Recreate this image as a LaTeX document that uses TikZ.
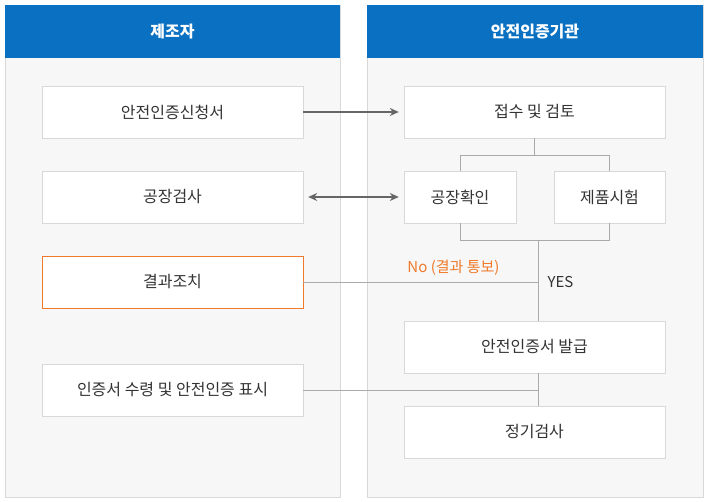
\documentclass[tikz,border=0pt]{standalone}
\usepackage{fontspec}
\setmainfont{Noto Sans CJK KR}
\usetikzlibrary{arrows.meta}
\definecolor{hdr}{HTML}{0A70C2}
\definecolor{pbg}{HTML}{F7F7F7}
\definecolor{pline}{HTML}{D8D8D8}
\definecolor{conn}{HTML}{AAAAAA}
\definecolor{arr}{HTML}{666666}
\definecolor{org}{HTML}{F07A2A}
\begin{document}
\begin{tikzpicture}[x=1pt,y=-1pt,
  box/.style={draw=pline,fill=white,minimum height=52pt,inner sep=0pt,font=\fontsize{16}{18}\selectfont,text=black!80},
  hd/.style={fill=hdr,minimum height=53pt,inner sep=0pt,text=white,font=\fontsize{16}{18}\selectfont\bfseries},
  ln/.style={draw=conn,line width=0.8pt},
  ar/.style={draw=arr,line width=1.4pt,-{Stealth[length=9pt,width=8pt]}}]
\useasboundingbox (0,0) rectangle (710,502);
\fill[white] (0,0) rectangle (710,502);
\draw[pline,fill=pbg] (5,5) rectangle (340,497);
\draw[pline,fill=pbg] (367,5) rectangle (703,497);
\node[hd,minimum width=335pt] (h1) at (172.5,31.5) {제조자};
\node[hd,minimum width=336pt] (h2) at (535,31.5) {안전인증기관};
\node[box,minimum width=261pt] (a1) at (172.5,112) {안전인증신청서};
\node[box,minimum width=261pt] (a2) at (172.5,197) {공장검사};
\node[box,minimum width=261pt,draw=org] (a3) at (172.5,282) {결과조치};
\node[box,minimum width=261pt] (a4) at (172.5,390) {인증서 수령 및 안전인증 표시};
\node[box,minimum width=261pt] (b1) at (534.5,112) {접수 및 검토};
\node[box,minimum width=112pt] (b2) at (460,197) {공장확인};
\node[box,minimum width=111pt] (b3) at (609.5,197) {제품시험};
\node[box,minimum width=261pt] (b4) at (534.5,347) {안전인증서 발급};
\node[box,minimum width=261pt] (b5) at (534.5,432) {정기검사};
\coordinate (t) at (534.5,155);
\coordinate (j) at (538,240);
\draw[ln] (b1.south) -- (t);
\draw[ln] (b2.north) -- (460,155) -- (609.5,155) -- (b3.north);
\draw[ln] (b2.south) -- (460,240) -- (609.5,240) -- (b3.south);
\draw[ln] (j) -- (538,321);
\draw[ln] (a3.east) -- (538,282);
\draw[ln] (a4.east) -- (538,390);
\draw[ln] (538,373) -- (538,406);
\draw[ar] (a1.east) -- ([xshift=-5pt]b1.west);
\draw[ar,{Stealth[length=9pt,width=8pt]}-{Stealth[length=9pt,width=8pt]}] ([xshift=5pt]a2.east) -- ([xshift=-5pt]b2.west);
\node[text=org,font=\fontsize{15}{17}\selectfont,anchor=east] (no) at (503,268) {No (결과 통보)};
\node[text=black!80,font=\fontsize{15}{17}\selectfont,anchor=west] (yes) at (544,282) {YES};
\end{tikzpicture}
\end{document}
